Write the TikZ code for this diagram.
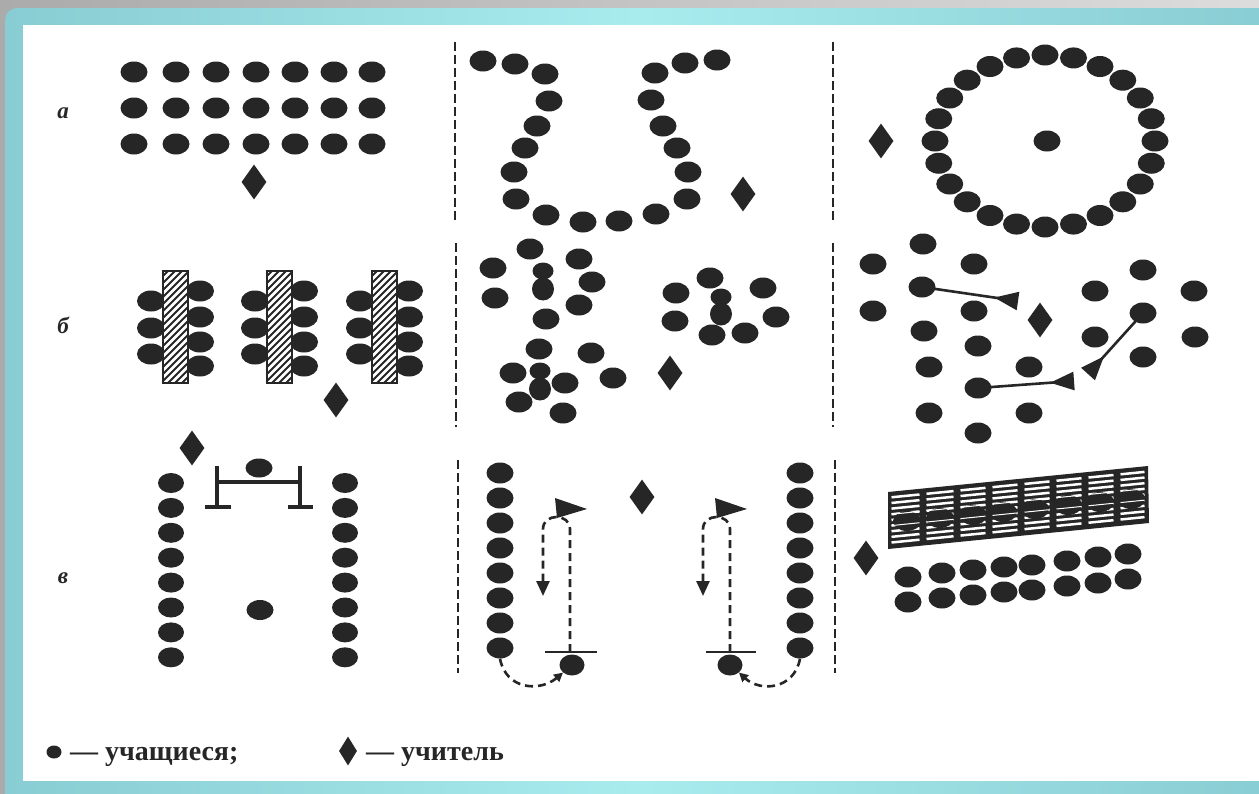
\documentclass[tikz,border=0pt]{standalone}
\usepackage{fontspec}
\setmainfont{Liberation Serif}
\usetikzlibrary{shapes.geometric,arrows.meta}
\definecolor{ink}{HTML}{262626}
\definecolor{tealD}{HTML}{88CDD3}
\definecolor{tealL}{HTML}{A9ECEE}
\definecolor{greyL}{HTML}{DCDCDC}
\definecolor{greyD}{HTML}{ABABAB}
\tikzset{
  stud/.style={ellipse, fill=ink, draw=none, minimum width=27pt, minimum height=21pt, inner sep=0pt},
  pairtop/.style={stud, minimum width=21pt, minimum height=17pt},
  pairbot/.style={stud, minimum width=22pt, minimum height=23pt},
  teach/.style={diamond, fill=ink, draw=none, minimum width=25pt, minimum height=35pt, inner sep=0pt},
  sep/.style={ink, line width=2.2pt, dash pattern=on 9pt off 4pt},
  track/.style={ink, line width=2.6pt, dash pattern=on 8pt off 5pt},
  bar/.style={ink, line width=4pt},
  pointer/.style={ink, line width=2.6pt, -{Triangle[reversed, length=24pt, width=18pt]}},
  lbl/.style={font=\bfseries\itshape\fontsize{23}{23}\selectfont, text=ink, inner sep=0pt},
  leg/.style={font=\bfseries\fontsize{28}{28}\selectfont, text=ink, anchor=base west, inner sep=0pt},
}
\begin{document}
\begin{tikzpicture}[x=1pt,y=-1pt]
\useasboundingbox (0,0) rectangle (1259,793);
% frame
\shade[left color=greyD, right color=greyL] (0,0) rectangle (1259,793);
\shade[left color=tealD, right color=tealD, middle color=tealL, rounded corners=12pt] (5,8) rectangle (1275,810);
\fill[white] (23,25) rectangle (1259,781);

% row labels
\node[lbl] (la) at (63,113) {а};
\node[lbl] (lb) at (63,325) {б};
\node[lbl] (lc) at (63,578) {в};

% separators
\draw[sep] (455,42) -- (455,220);
\draw[sep] (833,42) -- (833,220);
\draw[sep] (456,243) -- (456,427);
\draw[sep] (833,243) -- (833,427);
\draw[sep] (458,460) -- (458,673);
\draw[sep] (835,460) -- (835,673);

% ===== row a, left: rows of desks
\foreach \r/\y in {1/72,2/108,3/144}
  \foreach \c/\x in {1/134,2/176,3/216,4/256,5/295,6/334,7/372}
    \node[stud] (aL\r\c) at (\x,\y) {};
\node[teach] (aLt) at (254,182) {};

% ===== row a, middle: two curved lines
\foreach \x/\y [count=\i] in {483/61,515/64,545/74,549/101,537/126,525/148,514/172,516/199,546/215,583/222,619/221,656/214,687/199,688/172,677/148,663/126,651/100,655/73,685/63,717/60}
  \node[stud] (aM\i) at (\x,\y) {};
\node[teach] (aMt) at (743,194) {};

% ===== row a, right: circle
\foreach \i in {0,...,23}
  \node[stud] (aR\i) at ({1045+110*cos(\i*15)},{141+86*sin(\i*15)}) {};
\node[stud] (aRc) at (1047,141) {};
\node[teach] (aRt) at (881,141) {};

% ===== row b, left: long tables
\foreach \k/\rx in {1/163,2/267,3/372} {
  \foreach \y [count=\j] in {301,328,354}
    \node[stud, minimum width=28pt] (bL\k-l\j) at (\rx-12,\y) {};
  \foreach \y [count=\j] in {291,317,342,366}
    \node[stud, minimum width=28pt] (bL\k-r\j) at (\rx+37,\y) {};
  \fill[white] (\rx,271) rectangle (\rx+25,383);
  \begin{scope}
    \clip (\rx,271) rectangle (\rx+25,383);
    \foreach \t in {0,...,20}
      \draw[ink, line width=1.9pt] (\rx-2,271+\t*7) -- (\rx+27,242+\t*7);
  \end{scope}
  \draw[ink, line width=2.8pt] (\rx,271) rectangle (\rx+25,383);
}
\node[teach] (bLt) at (336,400) {};

% ===== row b, middle: groups
\foreach \x/\y [count=\i] in {530/249,493/268,495/298,579/259,592/282,579/305,546/319,676/293,675/321,710/278,763/288,776/317,745/333,712/335,539/349,591/353,513/373,565/383,519/402,563/413,613/378}
  \node[stud] (bM\i) at (\x,\y) {};
\node[pairtop] (bMp1t) at (543,271) {};
\node[pairbot] (bMp1b) at (543,289) {};
\node[pairtop] (bMp2t) at (721,297) {};
\node[pairbot] (bMp2b) at (721,314) {};
\node[pairtop] (bMp3t) at (540,371) {};
\node[pairbot] (bMp3b) at (540,389) {};
\node[teach] (bMt) at (670,373) {};

% ===== row b, right: free arrangement with pointers
\foreach \x/\y [count=\i] in {923/244,873/264,873/311,974/264,974/311,924/331,978/346,929/367,1029/367,929/413,1029/413,978/433,1095/291,1143/270,1095/337,1143/357,1194/291,1195/337}
  \node[stud] (bR\i) at (\x,\y) {};
\node[stud] (bRs1) at (922,287) {};
\node[stud] (bRs2) at (978,388) {};
\node[stud] (bRs3) at (1143,313) {};
\coordinate (bRe1) at (1018,301);
\coordinate (bRe2) at (1074,381);
\coordinate (bRe3) at (1088,374);
\draw[pointer] (bRs1.center) -- (bRe1);
\draw[pointer] (bRs2.center) -- (bRe2);
\draw[pointer] (bRs3.center) -- (bRe3);
\node[teach] (bRt) at (1040,320) {};

% ===== row c, left: gym with bench
\foreach \i in {0,...,7} {
  \node[stud, minimum width=26pt, minimum height=20pt] (cLl\i) at (171,{483+24.9*\i}) {};
  \node[stud, minimum width=26pt, minimum height=20pt] (cLr\i) at (345,{483+24.9*\i}) {};
}
\node[stud, minimum height=19pt] (cLd) at (259,468) {};
\node[stud, minimum height=20pt] (cLc) at (260,610) {};
\draw[bar] (217,482) -- (300,482);
\draw[bar] (217,466) -- (217,507);
\draw[bar] (300,466) -- (300,507);
\draw[bar] (205,507) -- (231,507);
\draw[bar] (288,507) -- (313,507);
\node[teach] (cLt) at (192,448) {};

% ===== row c, middle: relay tracks
\foreach \i in {0,...,7} {
  \node[stud, minimum width=27pt, minimum height=21pt] (cMl\i) at (500,{473+25*\i}) {};
  \node[stud, minimum width=27pt, minimum height=21pt] (cMr\i) at (800,{473+25*\i}) {};
}
% left track
\node[stud, minimum width=25pt, minimum height=21pt] (cMs1) at (572,665) {};
\draw[ink, line width=2.5pt] (545,652) -- (597,652);
\coordinate (cMa1) at (570,652);
\coordinate (cMb1) at (543,596);
\draw[track, -{Triangle[length=15pt, width=13pt]}] (cMa1) -- (570,529) .. controls (570,513) and (543,513) .. (543,529) -- (cMb1);
\fill[ink] (555,498) -- (587,509) -- (557,518) -- cycle;
\draw[track, -{Triangle[length=9pt, width=9pt]}] (cMl7.south) .. controls (506,690) and (540,692) .. (cMs1.south west);
% right track
\node[stud, minimum width=25pt, minimum height=21pt] (cMs2) at (730,665) {};
\draw[ink, line width=2.5pt] (706,652) -- (756,652);
\coordinate (cMa2) at (730,652);
\coordinate (cMb2) at (703,596);
\draw[track, -{Triangle[length=15pt, width=13pt]}] (cMa2) -- (730,529) .. controls (730,513) and (703,513) .. (703,529) -- (cMb2);
\fill[ink] (715,498) -- (747,509) -- (717,518) -- cycle;
\draw[track, -{Triangle[length=9pt, width=9pt]}] (cMr7.south) .. controls (794,690) and (760,692) .. (cMs2.south east);
\node[teach] (cMt) at (642,497) {};

% ===== row c, right: wall bars
\fill[ink] (888,492) -- (1148,466) -- (1149,523) -- (888,549) -- cycle;
\foreach \xa/\xb in {888/923,923/957,957/989,989/1021,1021/1053,1053/1085,1085/1117,1117/1148}
  \foreach \j in {1,...,9}
    \draw[white, line width=2.5pt] ({\xa+3.5},{492-0.1004*(\xa+3.5-888)+\j*5.65}) -- ({\xb-3.5},{492-0.1004*(\xb-3.5-888)+\j*5.65});
\foreach \x/\y [count=\i] in {907/521,940/518,973/515,1003/512,1035/509,1068/505,1100/502,1131/499}
  \node[stud, minimum width=28pt, minimum height=20pt] (cRw\i) at (\x,\y) {};
\foreach \xa/\xb in {888/923,923/957,957/989,989/1021,1021/1053,1053/1085,1085/1117,1117/1148}
  \foreach \j in {4,6}
    \draw[white, line width=1pt] ({\xa+3.5},{492-0.1004*(\xa+3.5-888)+\j*5.65}) -- ({\xb-3.5},{492-0.1004*(\xb-3.5-888)+\j*5.65});
\foreach \x/\y [count=\i] in {908/577,942/573,973/570,1004/567,1032/565,1067/561,1098/557,1128/554}
  \node[stud] (cRa\i) at (\x,\y) {};
\foreach \x/\y [count=\i] in {908/602,942/598,973/595,1004/592,1032/590,1067/586,1098/583,1128/579}
  \node[stud] (cRb\i) at (\x,\y) {};
\node[teach] (cRt) at (866,558) {};

% ===== legend
\node[stud, minimum width=15pt, minimum height=13pt] (lgS) at (54,752) {};
\node[leg] (lgSt) at (70,760) {— учащиеся;};
\node[teach, minimum width=18pt, minimum height=29pt] (lgT) at (348,751) {};
\node[leg] (lgTt) at (366,760) {— учитель};
\end{tikzpicture}
\end{document}
